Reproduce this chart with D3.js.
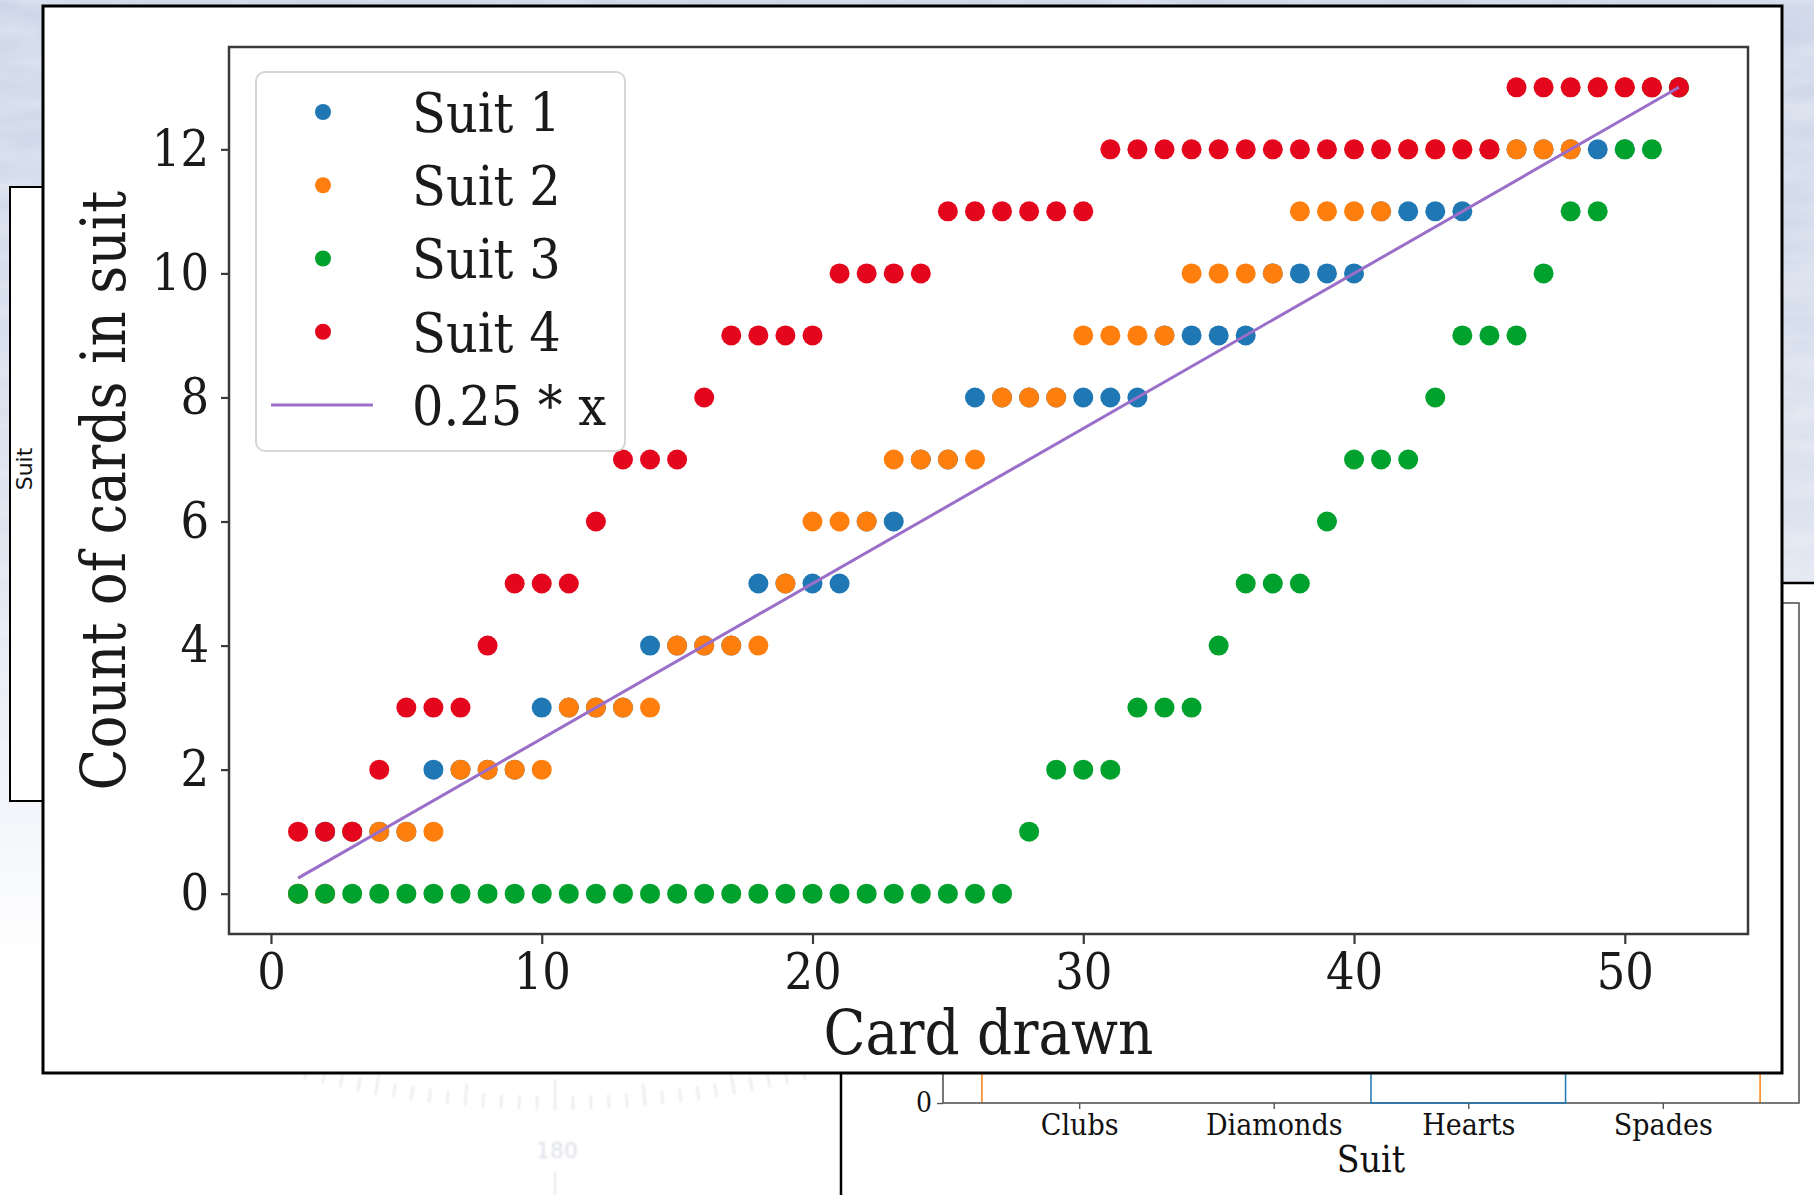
<!DOCTYPE html>
<html>
<head>
<meta charset="utf-8">
<script src="https://cdn.jsdelivr.net/npm/d3@7"></script>
<style>
  html, body { margin: 0; padding: 0; background: #ffffff; overflow: hidden; }
  svg { display: block; }
</style>
</head>
<body>
<svg id="chart" width="1814" height="1195"></svg>
<script>
// ---- data -------------------------------------------------------------
const cardDrawn = [1,2,3,4,5,6,7,8,9,10,11,12,13,14,15,16,17,18,19,20,21,22,23,24,25,26,
                   27,28,29,30,31,32,33,34,35,36,37,38,39,40,41,42,43,44,45,46,47,48,49,50,51,52];

// running count of cards seen in each suit after each draw
const suit1Counts = [0,1,1,1,1,2,2,2,2,3,3,3,3,4,4,4,4,5,5,5,5,6,6,7,7,8,
                     8,8,8,8,8,8,9,9,9,9,10,10,10,10,11,11,11,11,12,12,12,12,12,12,13,13];
const suit2Counts = [0,0,1,1,1,1,2,2,2,2,3,3,3,3,4,4,4,4,5,6,6,6,7,7,7,7,
                     8,8,8,9,9,9,9,10,10,10,10,11,11,11,11,12,12,12,12,12,12,12,13,13,13,13];
const suit3Counts = [0,0,0,0,0,0,0,0,0,0,0,0,0,0,0,0,0,0,0,0,0,0,0,0,0,0,
                     0,1,2,2,2,3,3,3,4,5,5,5,6,7,7,7,8,9,9,9,10,11,11,12,12,13];
const suit4Counts = [1,1,1,2,3,3,3,4,5,5,5,6,7,7,7,8,9,9,9,9,10,10,10,10,11,11,
                     11,11,11,11,12,12,12,12,12,12,12,12,12,12,12,12,12,12,12,13,13,13,13,13,13,13];

const suitNames  = ["Suit 1", "Suit 2", "Suit 3", "Suit 4"];
const suitColors = ["#1f77b4", "#ff7f0e", "#00a12c", "#e3061c"];

const trendSlope = 0.25;
const trendLabel = "0.25 * x";
const trendColor = "#9b6fc9";

const xTickValues = [0, 10, 20, 30, 40, 50];
const yTickValues = [0, 2, 4, 6, 8, 10, 12];
const xLabel = "Card drawn";
const yLabel = "Count of cards in suit";

// the suit chart that sits underneath
const backSuits = ["Clubs", "Diamonds", "Hearts", "Spades"];
const backOrangeCounts = [13, 13, 13, 13];
const backBlueCounts = [0, 0, 13, 0];
const backYTicks = [0];
const backXLabel = "Suit";
const sideLabel = "Suit";

// ---- drawing ----------------------------------------------------------
const svg = d3.select("#chart");
const W = 1814, H = 1195;
const serif = "'DejaVu Serif Condensed','DejaVu Serif',serif";

const defs = svg.append("defs");
const bgGrad = defs.append("linearGradient")
  .attr("id", "bgGrad").attr("x1", 0).attr("y1", 0).attr("x2", 0).attr("y2", 1);
bgGrad.append("stop").attr("offset", "0%").attr("stop-color", "#cdd6e8");
bgGrad.append("stop").attr("offset", "45%").attr("stop-color", "#dde3ef");
bgGrad.append("stop").attr("offset", "68%").attr("stop-color", "#f3f5fa");
bgGrad.append("stop").attr("offset", "80%").attr("stop-color", "#ffffff");

const haze = defs.append("filter").attr("id", "haze")
  .attr("x", 0).attr("y", 0).attr("width", 1).attr("height", 1);
haze.append("feTurbulence").attr("type", "fractalNoise")
  .attr("baseFrequency", "0.012 0.05").attr("numOctaves", 3).attr("seed", 7);
haze.append("feColorMatrix").attr("type", "matrix")
  .attr("values", "0 0 0 0 1  0 0 0 0 1  0 0 0 0 1  0 0 0 0.9 -0.25");

const soft = defs.append("filter").attr("id", "soft");
soft.append("feGaussianBlur").attr("stdDeviation", 0.9);

// backdrop
svg.append("rect").attr("width", W).attr("height", H).attr("fill", "url(#bgGrad)");
svg.append("rect").attr("width", W).attr("height", 760).attr("filter", "url(#haze)").attr("opacity", 0.55);

// faint dial markings below the panels
const dial = svg.append("g").attr("filter", "url(#soft)").attr("opacity", 0.45);
const dialCx = 555, dialCy = 76, dialR = 1034;
const dialAngles = d3.range(-14, 14.01, 1);
const tickLen = a => (a % 10 === 0 ? 30 : (a % 5 === 0 ? 22 : 14));
dial.selectAll("line").data(dialAngles).join("line")
  .attr("x1", a => dialCx + dialR * Math.sin(a * Math.PI / 180))
  .attr("y1", a => dialCy + dialR * Math.cos(a * Math.PI / 180))
  .attr("x2", a => dialCx + (dialR - tickLen(a)) * Math.sin(a * Math.PI / 180))
  .attr("y2", a => dialCy + (dialR - tickLen(a)) * Math.cos(a * Math.PI / 180))
  .attr("stroke", "#b9bed0").attr("stroke-width", 1.6);
dial.append("text").attr("x", dialCx + 2).attr("y", 1158)
  .attr("text-anchor", "middle").attr("font-family", "'DejaVu Sans',sans-serif")
  .attr("font-size", 22).attr("fill", "#b3b8cc").text("180");
dial.append("line").attr("x1", dialCx).attr("x2", dialCx).attr("y1", 1172).attr("y2", 1195)
  .attr("stroke", "#b9bed0").attr("stroke-width", 1.6);

// ---- underlying suit chart panel ----
const back = svg.append("g");
back.append("rect").attr("x", 841).attr("y", 583).attr("width", 1100).attr("height", 800)
  .attr("fill", "#ffffff").attr("stroke", "#000").attr("stroke-width", 2.5);

const bx = d3.scalePoint().domain(backSuits).range([943, 1799]).padding(0.7);
const by = d3.scaleLinear().domain([0, 13]).range([1103, 680]);
const bStep = bx.step();

// step outline across the bins (shared edges of equal neighbours vanish)
const stepOutline = (counts) => {
  const pts = [];
  counts.forEach((c, i) => {
    const x0 = bx(backSuits[i]) - bStep / 2, x1 = bx(backSuits[i]) + bStep / 2;
    if (i === 0) pts.push([x0, by(0)]);
    pts.push([x0, by(c)], [x1, by(c)]);
    if (i === counts.length - 1) pts.push([x1, by(0)]);
  });
  return d3.line()(pts);
};
// plain bar outlines for the non-empty bins
const barOutline = (counts) => {
  const path = d3.path();
  counts.forEach((c, i) => {
    if (c <= 0) return;
    const x0 = bx(backSuits[i]) - bStep / 2;
    path.rect(x0, by(c), bStep, by(0) - by(c));
  });
  return path.toString();
};
back.append("path").attr("d", stepOutline(backOrangeCounts))
  .attr("fill", "none").attr("stroke", suitColors[1]).attr("stroke-width", 1.5);

back.append("rect").attr("x", 943).attr("y", 603).attr("width", 1799 - 943).attr("height", 1103 - 603)
  .attr("fill", "none").attr("stroke", "#555").attr("stroke-width", 1.6);

back.append("path").attr("d", barOutline(backBlueCounts))
  .attr("fill", "none").attr("stroke", suitColors[0]).attr("stroke-width", 1.5);

const bxAxis = back.append("g").attr("transform", "translate(0,1103)")
  .call(d3.axisBottom(bx).tickSize(6).tickSizeOuter(0).tickPadding(5));
bxAxis.select(".domain").remove();
bxAxis.selectAll("line").attr("stroke", "#555").attr("stroke-width", 1.4);
bxAxis.selectAll("text").attr("font-family", serif).attr("font-stretch", "condensed")
  .attr("font-size", 30).attr("fill", "#111");

const byAxis = back.append("g").attr("transform", "translate(943,0)")
  .call(d3.axisLeft(by).tickValues(backYTicks).tickSize(6).tickSizeOuter(0).tickPadding(5).tickFormat(d3.format("d")));
byAxis.select(".domain").remove();
byAxis.selectAll("line").attr("stroke", "#555").attr("stroke-width", 1.4);
byAxis.selectAll("text").attr("font-family", serif).attr("font-stretch", "condensed")
  .attr("font-size", 28).attr("fill", "#111");

back.append("text").attr("x", (943 + 1799) / 2).attr("y", 1172).attr("text-anchor", "middle")
  .attr("font-family", serif).attr("font-stretch", "condensed").attr("font-size", 37)
  .attr("fill", "#111").text(backXLabel);

// ---- side panel edge with its label ----
svg.append("rect").attr("x", 10).attr("y", 187).attr("width", 80).attr("height", 614)
  .attr("fill", "#ffffff").attr("stroke", "#000").attr("stroke-width", 2);
svg.append("text").attr("transform", "translate(32,469) rotate(-90)")
  .attr("text-anchor", "middle").attr("font-family", "'DejaVu Sans',sans-serif")
  .attr("font-size", 22).attr("fill", "#111").text(sideLabel);

// ---- main figure panel ----
svg.append("rect").attr("x", 43).attr("y", 6).attr("width", 1782 - 43).attr("height", 1073 - 6)
  .attr("fill", "#ffffff").attr("stroke", "#000").attr("stroke-width", 3);

const plotLeft = 229, plotRight = 1748, plotTop = 47, plotBottom = 934;
const xMin = d3.min(cardDrawn), xMax = d3.max(cardDrawn);
const xPad = (xMax - xMin) * 0.05;
const yMaxData = Math.max(d3.max(suit4Counts), trendSlope * xMax);
const yPad = yMaxData * 0.05;

const x = d3.scaleLinear().domain([xMin - xPad, xMax + xPad]).range([plotLeft, plotRight]);
const y = d3.scaleLinear().domain([0 - yPad, yMaxData + yPad]).range([plotBottom, plotTop]);

const plot = svg.append("g");

const series = [suit1Counts, suit2Counts, suit3Counts, suit4Counts];
series.forEach((counts, si) => {
  plot.append("g").selectAll("circle")
    .data(cardDrawn.map((c, i) => ({ card: c, count: counts[i] })))
    .join("circle")
    .attr("cx", d => x(d.card))
    .attr("cy", d => y(d.count))
    .attr("r", 10)
    .attr("fill", suitColors[si]);
});

const trend = d3.line().x(d => x(d)).y(d => y(trendSlope * d));
plot.append("path").datum([xMin, xMax]).attr("d", trend)
  .attr("fill", "none").attr("stroke", trendColor).attr("stroke-width", 3);

// spines
plot.append("rect").attr("x", plotLeft).attr("y", plotTop)
  .attr("width", plotRight - plotLeft).attr("height", plotBottom - plotTop)
  .attr("fill", "none").attr("stroke", "#3a3a3a").attr("stroke-width", 2.5);

// axes
const xAxis = plot.append("g").attr("transform", `translate(0,${plotBottom})`)
  .call(d3.axisBottom(x).tickValues(xTickValues).tickSize(10).tickPadding(9).tickSizeOuter(0));
xAxis.select(".domain").remove();
xAxis.selectAll("line").attr("stroke", "#3a3a3a").attr("stroke-width", 2.2);
xAxis.selectAll("text").attr("font-family", serif).attr("font-stretch", "condensed")
  .attr("font-size", 50).attr("fill", "#1a1a1a");

const yAxis = plot.append("g").attr("transform", `translate(${plotLeft},0)`)
  .call(d3.axisLeft(y).tickValues(yTickValues).tickSize(8).tickPadding(12).tickSizeOuter(0));
yAxis.select(".domain").remove();
yAxis.selectAll("line").attr("stroke", "#3a3a3a").attr("stroke-width", 2.2);
yAxis.selectAll("text").attr("font-family", serif).attr("font-stretch", "condensed")
  .attr("font-size", 50).attr("fill", "#1a1a1a");

// axis titles
plot.append("text").attr("x", (plotLeft + plotRight) / 2).attr("y", 1054)
  .attr("text-anchor", "middle").attr("font-family", serif).attr("font-stretch", "condensed")
  .attr("font-size", 61).attr("fill", "#1a1a1a").text(xLabel);
plot.append("text").attr("transform", `translate(125,${(plotTop + plotBottom) / 2}) rotate(-90)`)
  .attr("text-anchor", "middle").attr("font-family", serif).attr("font-stretch", "condensed")
  .attr("font-size", 61).attr("fill", "#1a1a1a").text(yLabel);

// legend
const legend = plot.append("g");
legend.append("rect").attr("x", 256).attr("y", 72).attr("width", 369).attr("height", 379)
  .attr("rx", 9).attr("fill", "#ffffff").attr("fill-opacity", 0.85)
  .attr("stroke", "#d6d6d6").attr("stroke-width", 2);
const legendItems = suitNames.map((name, i) => ({ name, color: suitColors[i], type: "dot" }))
  .concat([{ name: trendLabel, color: trendColor, type: "line" }]);
const rowY = d3.scalePoint().domain(d3.range(legendItems.length)).range([112, 405]);
const rows = legend.selectAll("g.row").data(legendItems).join("g").attr("class", "row")
  .attr("transform", (d, i) => `translate(0,${rowY(i)})`);
rows.filter(d => d.type === "dot").append("circle")
  .attr("cx", 323).attr("cy", 0).attr("r", 8).attr("fill", d => d.color);
rows.filter(d => d.type === "line").append("line")
  .attr("x1", 271).attr("x2", 373).attr("y1", 0).attr("y2", 0)
  .attr("stroke", d => d.color).attr("stroke-width", 3);
rows.append("text").attr("x", 412).attr("y", 0).attr("dy", "0.36em")
  .attr("font-family", serif).attr("font-stretch", "condensed")
  .attr("font-size", 55).attr("fill", "#1a1a1a").text(d => d.name);
</script>
</body>
</html>
